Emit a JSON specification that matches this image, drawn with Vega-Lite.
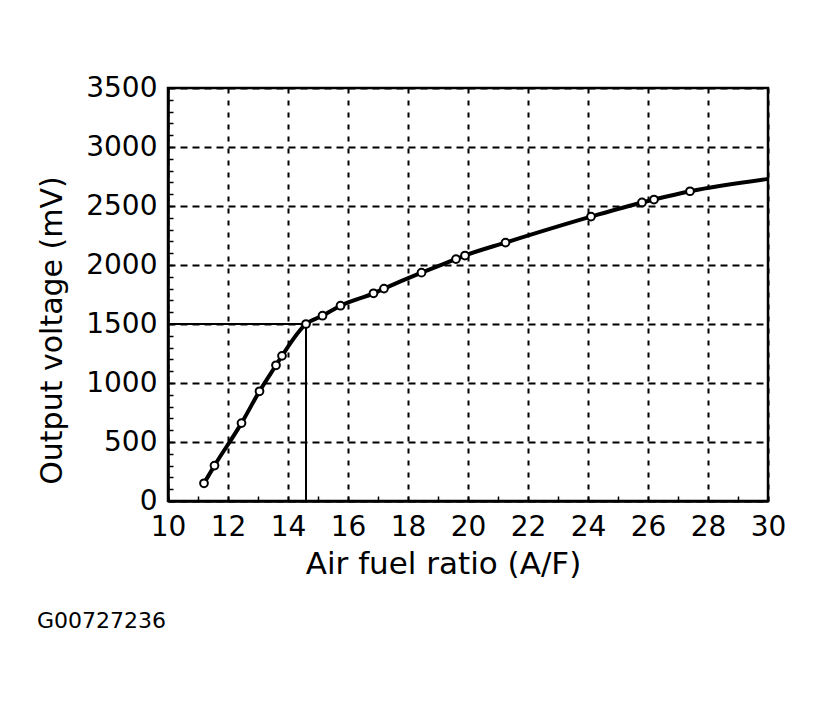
{
  "$schema": "https://vega.github.io/schema/vega-lite/v6.json",
  "width": 600,
  "height": 413,
  "autosize": "none",
  "padding": {"left": 168, "top": 88, "right": 49, "bottom": 204},
  "background": "white",
  "title": {
    "text": "G00727236",
    "orient": "bottom",
    "anchor": "start",
    "frame": "group",
    "dx": -131,
    "offset": 32,
    "font": "DejaVu Sans",
    "fontSize": 22,
    "fontWeight": "normal",
    "color": "black"
  },
  "config": {
    "view": {"stroke": "black", "strokeWidth": 2.5},
    "axis": {
      "labelFont": "DejaVu Sans",
      "labelFontSize": 28,
      "labelColor": "black",
      "titleFont": "DejaVu Sans",
      "titleFontSize": 30,
      "titleFontWeight": "normal",
      "titleColor": "black",
      "domainColor": "black",
      "domainWidth": 2.5,
      "tickColor": "black",
      "tickWidth": 1.5,
      "tickSize": -5,
      "gridColor": "black",
      "gridWidth": 2,
      "labelOverlap": false,
      "labelFlush": false
    }
  },
  "datasets": {
    "curve": [
      {"afr": 11.2, "mv": 150, "marker": true},
      {"afr": 11.55, "mv": 300, "marker": true},
      {"afr": 12.45, "mv": 660, "marker": true},
      {"afr": 13.05, "mv": 930, "marker": true},
      {"afr": 13.6, "mv": 1150, "marker": true},
      {"afr": 13.8, "mv": 1230, "marker": true},
      {"afr": 14.6, "mv": 1500, "marker": true},
      {"afr": 15.15, "mv": 1570, "marker": true},
      {"afr": 15.75, "mv": 1655, "marker": true},
      {"afr": 16.85, "mv": 1760, "marker": true},
      {"afr": 17.2, "mv": 1800, "marker": true},
      {"afr": 18.45, "mv": 1935, "marker": true},
      {"afr": 19.6, "mv": 2050, "marker": true},
      {"afr": 19.9, "mv": 2080, "marker": true},
      {"afr": 21.25, "mv": 2190, "marker": true},
      {"afr": 24.1, "mv": 2410, "marker": true},
      {"afr": 25.8, "mv": 2530, "marker": true},
      {"afr": 26.2, "mv": 2555, "marker": true},
      {"afr": 27.4, "mv": 2625, "marker": true},
      {"afr": 30, "mv": 2730, "marker": false}
    ],
    "refs": [
      {"afr": 10, "mv": 1500, "afr2": 14.6, "mv2": 1500},
      {"afr": 14.6, "mv": 0, "afr2": 14.6, "mv2": 1500}
    ]
  },
  "encoding": {
    "x": {"field": "afr", "type": "quantitative", "scale": {"domain": [10, 30], "nice": false, "zero": false},
      "axis": {
        "title": "Air fuel ratio (A/F)",
        "titleFontSize": 31,
        "values": [10, 11, 12, 13, 14, 15, 16, 17, 18, 19, 20, 21, 22, 23, 24, 25, 26, 27, 28, 29, 30],
        "format": "d",
        "labelExpr": "datum.value % 2 === 0 ? datum.label : ''",
        "gridOpacity": {"condition": {"test": "datum.value % 2 === 0", "value": 1}, "value": 0},
        "gridDash": [5, 7],
        "labelPadding": 17,
        "titlePadding": 8,
        "titleAnchor": "middle",
        "titleX": 275
      }},
    "y": {"field": "mv", "type": "quantitative", "scale": {"domain": [0, 3500], "nice": false},
      "axis": {
        "title": "Output voltage (mV)",
        "values": [0, 100, 200, 300, 400, 500, 600, 700, 800, 900, 1000, 1100, 1200, 1300, 1400, 1500, 1600, 1700, 1800, 1900, 2000, 2100, 2200, 2300, 2400, 2500, 2600, 2700, 2800, 2900, 3000, 3100, 3200, 3300, 3400, 3500],
        "format": "d",
        "labelExpr": "datum.value % 500 === 0 ? datum.label : ''",
        "gridOpacity": {"condition": {"test": "datum.value % 500 === 0", "value": 1}, "value": 0},
        "gridDash": [7, 5],
        "labelPadding": 16,
        "titlePadding": 18,
        "titleAnchor": "middle",
        "titleY": 242
      }}
  },
  "layer": [
    {
      "data": {"name": "refs"},
      "mark": {"type": "rule", "color": "black", "strokeWidth": 2},
      "encoding": {
        "x2": {"field": "afr2"},
        "y2": {"field": "mv2"}
      }
    },
    {
      "data": {"name": "curve"},
      "mark": {"type": "line", "color": "black", "strokeWidth": 4, "interpolate": "monotone"}
    },
    {
      "data": {"name": "curve"},
      "transform": [{"filter": "datum.marker"}],
      "mark": {"type": "point", "shape": "circle", "filled": true, "fill": "white", "stroke": "black", "strokeWidth": 2, "size": 60, "opacity": 1}
    }
  ]
}
